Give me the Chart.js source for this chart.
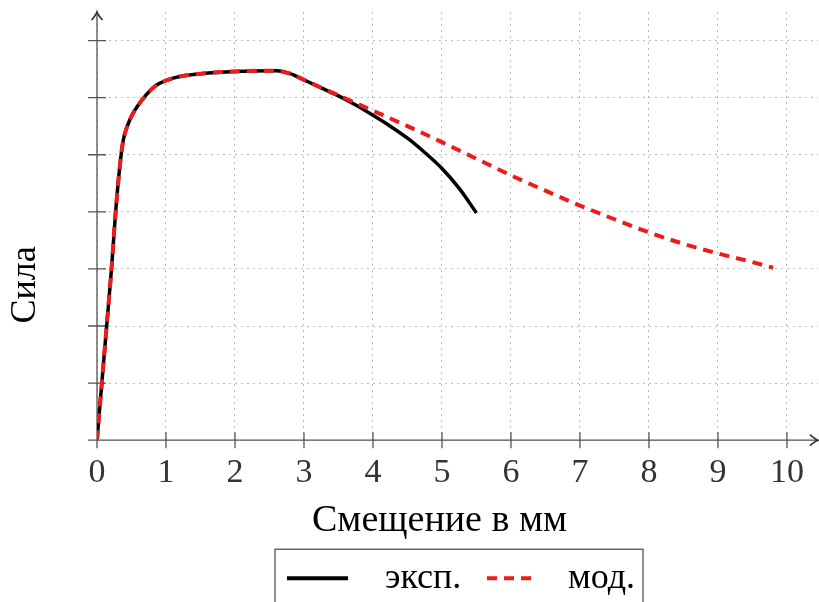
<!DOCTYPE html>
<html><head><meta charset="utf-8">
<script src="https://cdn.jsdelivr.net/npm/chart.js@4.4.1/dist/chart.umd.min.js"></script>
<style>html,body{margin:0;padding:0;background:#fff;}#wrap{width:819px;height:602px;}</style>
</head><body><div id="wrap"><canvas id="c" width="819" height="602"></canvas></div>
<script>
// ---- data ----
const seriesNames = ['эксп.', 'мод.'];
const xTitle = 'Смещение в мм';
const yTitle = 'Сила';
const xTickValues = [0, 1, 2, 3, 4, 5, 6, 7, 8, 9, 10];
const xTickLabels = ['0', '1', '2', '3', '4', '5', '6', '7', '8', '9', '10'];
const yTickValues = [0, 1, 2, 3, 4, 5, 6, 7];
const expX = [0, 0.07, 0.14, 0.21, 0.27, 0.34, 0.38, 0.43, 0.52, 0.7, 0.84, 1.0, 1.2, 1.5, 2.0, 2.6, 2.8, 3.0, 3.25, 3.5, 3.75, 4.0, 4.25, 4.5, 4.75, 5.0, 5.25, 5.5];
const expY = [0, 1.0, 2.0, 3.0, 4.0, 4.9, 5.25, 5.47, 5.72, 6.03, 6.2, 6.3, 6.37, 6.42, 6.46, 6.47, 6.42, 6.31, 6.17, 6.03, 5.87, 5.69, 5.5, 5.29, 5.04, 4.76, 4.41, 3.98];
const modX = [0, 0.07, 0.14, 0.21, 0.27, 0.34, 0.38, 0.43, 0.52, 0.7, 0.84, 1.0, 1.2, 1.5, 2.0, 2.6, 2.8, 3.0, 3.5, 4.0, 4.5, 5.0, 5.5, 6.0, 6.5, 7.0, 7.5, 8.0, 8.5, 9.0, 9.5, 9.8];
const modY = [0, 1.0, 2.0, 3.0, 4.0, 4.9, 5.25, 5.47, 5.72, 6.03, 6.2, 6.3, 6.37, 6.42, 6.46, 6.47, 6.42, 6.31, 6.04, 5.77, 5.5, 5.22, 4.93, 4.64, 4.37, 4.11, 3.87, 3.64, 3.44, 3.27, 3.12, 3.02];
const xMax = 10.45, yMax = 7.5;

const SERIF = '"Liberation Serif", "Times New Roman", serif';
const colors = ['#000000', '#ee1b1b'];

const decor = {
  id: 'decor',
  beforeDatasetsDraw(chart) {
    const {ctx, scales: {x, y}} = chart;
    const x0 = x.getPixelForValue(0), y0 = y.getPixelForValue(0);
    const xEnd = x.right, yEnd = y.top;
    ctx.save();
    ctx.strokeStyle = '#555';
    ctx.lineWidth = 1.3;
    ctx.beginPath();
    x.ticks.forEach(t => { const px = x.getPixelForValue(t.value); ctx.moveTo(px, y0 - 8); ctx.lineTo(px, y0 + 8); });
    y.ticks.forEach(t => { const py = y.getPixelForValue(t.value); ctx.moveTo(x0 - 9, py); ctx.lineTo(x0 + 9, py); });
    ctx.moveTo(x0, y0); ctx.lineTo(xEnd - 1, y0);
    ctx.moveTo(x0, y0); ctx.lineTo(x0, yEnd + 1);
    ctx.stroke();
    ctx.lineWidth = 1.7;
    ctx.strokeStyle = '#333';
    ctx.beginPath();
    ctx.moveTo(xEnd - 8, y0 - 5.5); ctx.quadraticCurveTo(xEnd - 3, y0 - 1, xEnd, y0); ctx.quadraticCurveTo(xEnd - 3, y0 + 1, xEnd - 8, y0 + 5.5);
    ctx.moveTo(x0 - 5.5, yEnd + 8); ctx.quadraticCurveTo(x0 - 1, yEnd + 3, x0, yEnd); ctx.quadraticCurveTo(x0 + 1, yEnd + 3, x0 + 5.5, yEnd + 8);
    ctx.stroke();
    ctx.restore();
  },
  afterDraw(chart) {
    const {ctx, chartArea: ca} = chart;
    ctx.save();
    ctx.fillStyle = '#000';
    ctx.textAlign = 'center';
    ctx.textBaseline = 'middle';
    // y title
    ctx.font = '36px ' + SERIF;
    ctx.save();
    ctx.translate(ca.left - 71.5, ca.top + 273);
    ctx.rotate(-Math.PI / 2);
    ctx.fillText(yTitle, 0, 0);
    ctx.restore();
    // x title
    ctx.font = '38px ' + SERIF;
    ctx.fillText(xTitle, ca.left + 342.5, ca.bottom + 81);
    // legend
    ctx.font = '36px ' + SERIF;
    const lx = ca.left + 178, lr = ca.left + 546, ly = ca.bottom + 109;
    ctx.strokeStyle = '#444';
    ctx.lineWidth = 1.2;
    ctx.strokeRect(lx, ly, lr - lx, 100);
    const cy = ly + 29;
    ctx.textAlign = 'left';
    ctx.lineWidth = 4; ctx.strokeStyle = colors[0]; ctx.setLineDash([]);
    ctx.beginPath(); ctx.moveTo(lx + 12, cy); ctx.lineTo(lx + 73, cy); ctx.stroke();
    ctx.fillText(seriesNames[0], lx + 110, cy);
    ctx.strokeStyle = colors[1]; ctx.setLineDash([10, 7]);
    ctx.beginPath(); ctx.moveTo(lx + 212, cy); ctx.lineTo(lx + 263, cy); ctx.stroke();
    ctx.setLineDash([]);
    ctx.fillText(seriesNames[1], lx + 293, cy);
    ctx.restore();
  }
};

const gridColor = 'rgba(130,130,130,0.55)';
new Chart(document.getElementById('c'), {
  type: 'line',
  data: {
    datasets: [
      { label: seriesNames[0], data: expX.map((v, i) => ({x: v, y: expY[i]})), borderColor: colors[0], borderWidth: 3.5,
        pointRadius: 0, fill: false, cubicInterpolationMode: 'monotone', order: 1 },
      { label: seriesNames[1], data: modX.map((v, i) => ({x: v, y: modY[i]})), borderColor: colors[1], borderWidth: 4,
        borderDash: [10, 7], pointRadius: 0, fill: false, cubicInterpolationMode: 'monotone', order: 0 }
    ]
  },
  options: {
    responsive: false,
    animation: false,
    devicePixelRatio: 1,
    layout: { padding: { top: 12, left: 97, right: 1, bottom: 97 } },
    plugins: { legend: { display: false }, tooltip: { enabled: false } },
    scales: {
      x: {
        type: 'linear', min: 0, max: xMax,
        afterBuildTicks: s => { s.ticks = xTickValues.map(v => ({value: v})); },
        ticks: { font: { family: SERIF, size: 34 }, color: '#333', padding: 12, maxRotation: 0, autoSkip: false,
                 callback: (v) => { const i = xTickValues.indexOf(v); return i >= 0 ? xTickLabels[i] : ''; } },
        grid: { color: gridColor, lineWidth: 1, drawTicks: false },
        border: { display: false, dash: [2, 4] }
      },
      y: {
        type: 'linear', min: 0, max: yMax,
        afterBuildTicks: s => { s.ticks = yTickValues.map(v => ({value: v})); },
        ticks: { display: false },
        grid: { color: gridColor, lineWidth: 1, drawTicks: false },
        border: { display: false, dash: [2, 4] }
      }
    }
  },
  plugins: [decor]
});
</script></body></html>
